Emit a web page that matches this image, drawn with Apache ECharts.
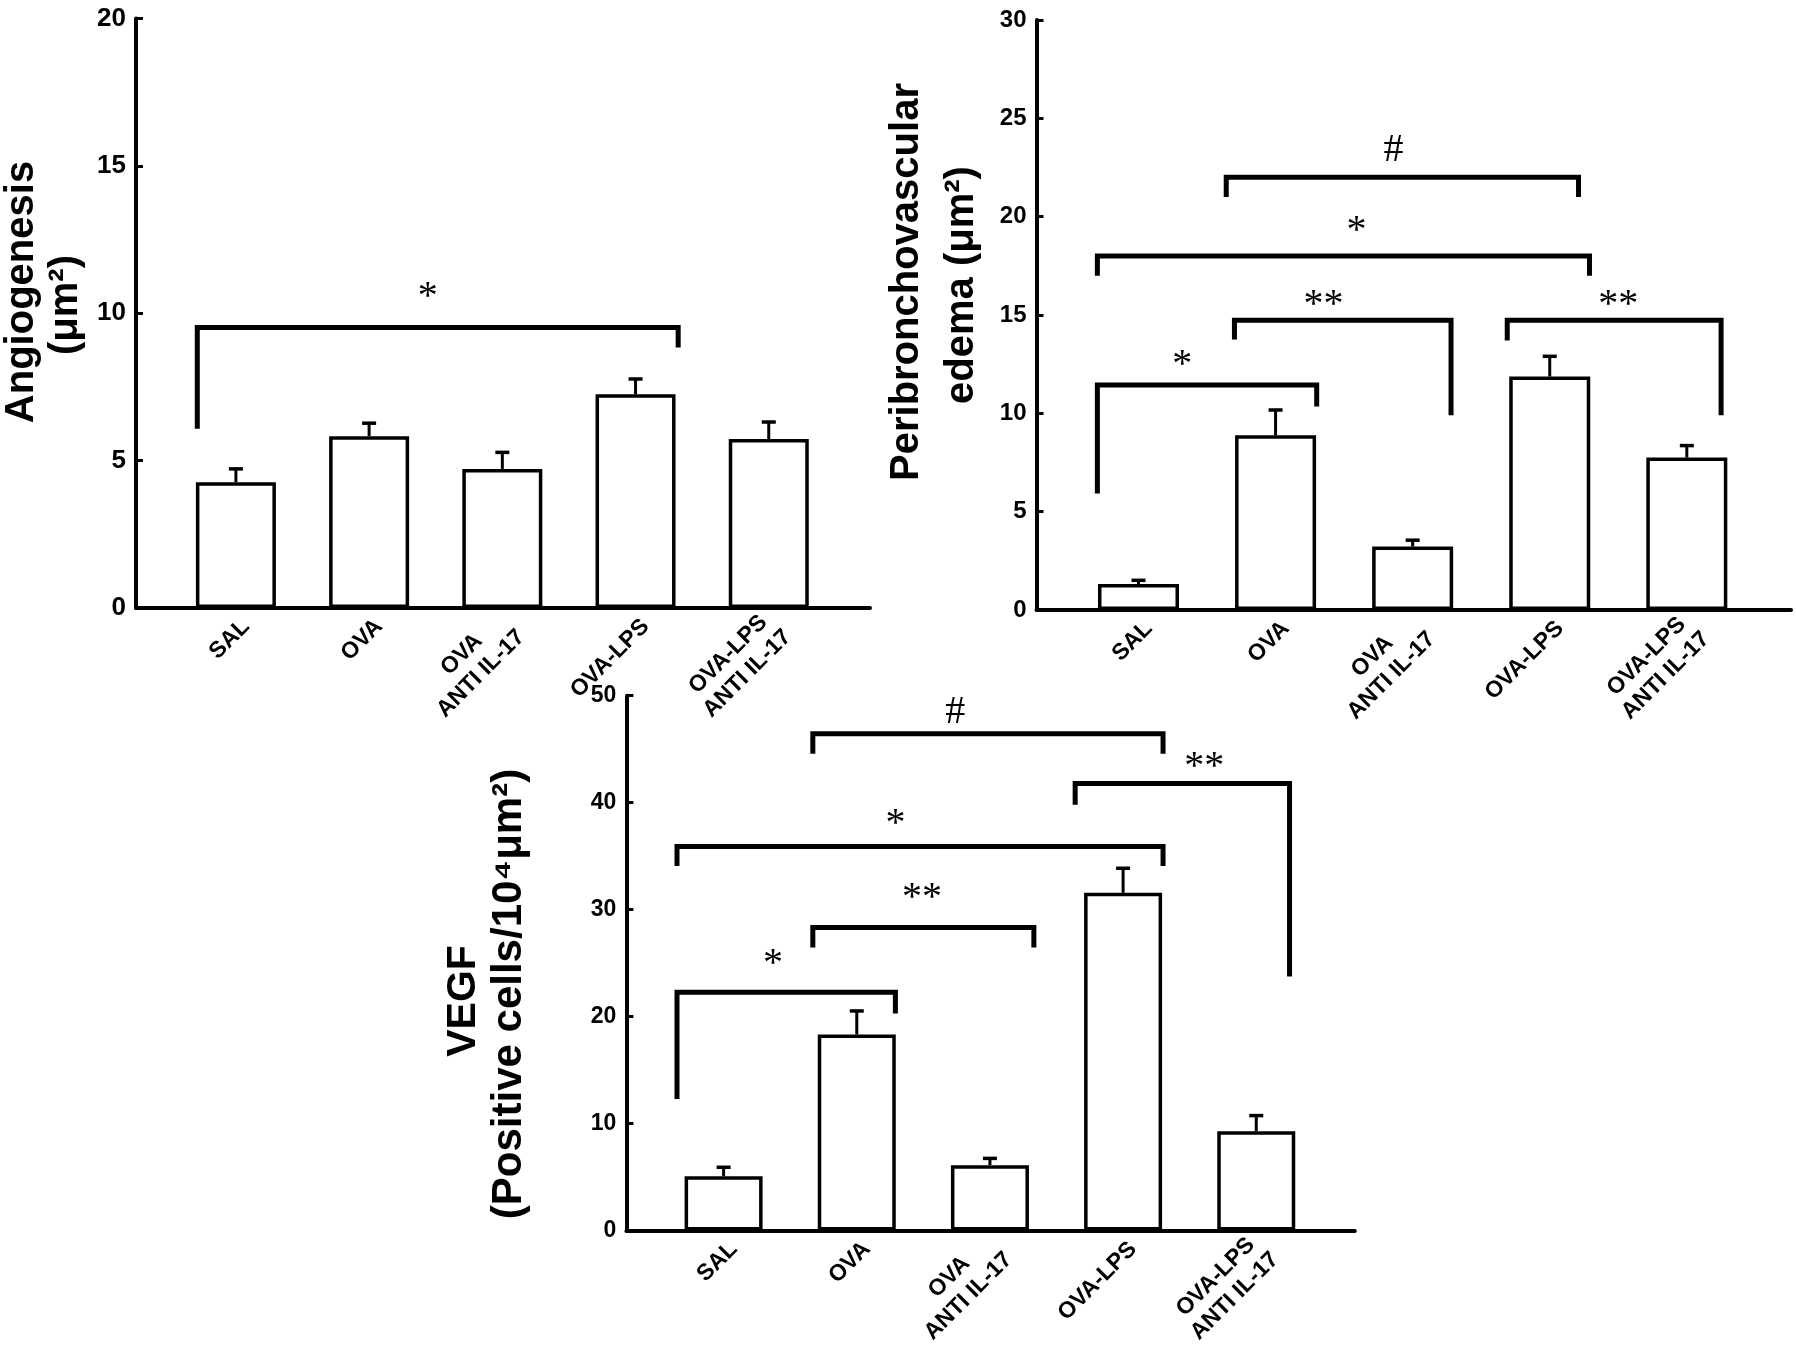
<!DOCTYPE html>
<html>
<head>
<meta charset="UTF-8">
<script src="https://cdn.jsdelivr.net/npm/echarts@6/dist/echarts.min.js"></script>
<style>
html, body { margin: 0; padding: 0; background: #fff; }
#main { width: 1796px; height: 1359px; }
</style>
</head>
<body>
<div id="main"></div>
<script>
// groups, same order in all three panels
var categories = ['SAL', 'OVA', 'OVA\nANTI IL-17', 'OVA-LPS', 'OVA-LPS\nANTI IL-17'];

// Angiogenesis (um2), mean and SEM
var angioMean = [4.27, 5.83, 4.72, 7.25, 5.73];
var angioErr = [0.45, 0.44, 0.56, 0.52, 0.58];

// Peribronchovascular edema (um2)
var edemaMean = [1.32, 8.88, 3.23, 11.87, 7.75];
var edemaErr = [0.19, 1.29, 0.32, 1.03, 0.61];

// VEGF positive cells / 10^4 um2
var vegfMean = [5.08, 18.33, 6.12, 31.58, 9.29];
var vegfErr = [0.84, 2.20, 0.63, 2.29, 1.46];

// significance brackets: [x left, x right, left leg end, top, right leg end, label x, label y]
var angioBrackets = [[-0.29, 3.32, 6.08, 9.52, 8.84, 1.44, 10.53]];
var angioMarks = ['*'];

var edemaBrackets = [
  [0.64, 3.21, 21.0, 22.0, 21.0, 1.86, 23.37],
  [-0.30, 3.29, 17.0, 18.0, 17.0, 1.59, 19.26],
  [0.70, 2.28, 13.76, 14.73, 9.9, 1.35, 15.5],
  [2.69, 4.25, 13.7, 14.73, 9.9, 3.50, 15.5],
  [-0.30, 1.30, 5.93, 11.44, 10.35, 0.32, 12.45]
];
var edemaMarks = ['#', '*', '**', '**', '*'];

var vegfBrackets = [
  [0.67, 3.30, 44.58, 46.45, 44.58, 1.74, 48.47],
  [2.64, 4.25, 39.8, 41.8, 23.75, 3.61, 43.33],
  [-0.35, 3.30, 34.07, 35.9, 34.07, 1.29, 38.0],
  [0.67, 2.33, 26.46, 28.33, 26.46, 1.49, 31.0],
  [-0.35, 1.29, 12.29, 22.29, 20.29, 0.37, 24.87]
];
var vegfMarks = ['#', '**', '*', '**', '*'];

var FONT = 'Liberation Sans, Arial, sans-serif';

function catLabel(v) {
  var c = categories[Math.round(v)];
  if (c.indexOf('\n') < 0) return c;
  return c.split('\n').map(function (s) { return '{c|' + s + '}'; }).join('\n');
}

function makeX(idx, min, max) {
  return {
    type: 'value', gridIndex: idx, min: min, max: max,
    axisLine: { onZero: false, lineStyle: { color: '#000', width: 4 } },
    axisTick: { show: false },
    splitLine: { show: false },
    axisLabel: {
      // labels sit a little right of the bar centres, as in the original
      customValues: categories.map(function (c, i) { return i + 0.075; }),
      formatter: catLabel,
      rotate: 45, margin: 15,
      color: '#000', fontSize: 23, fontWeight: 'bold', fontFamily: FONT,
      rich: { c: { width: 116, lineHeight: 27, align: 'center', color: '#000', fontSize: 23, fontWeight: 'bold', fontFamily: FONT } }
    }
  };
}

function makeY(idx, max, interval, fs) {
  return {
    type: 'value', gridIndex: idx, min: 0, max: max, interval: interval,
    axisLine: { show: true, onZero: false, lineStyle: { color: '#000', width: 4 } },
    axisTick: { show: true, inside: true, length: 7, lineStyle: { color: '#000', width: 3 } },
    splitLine: { show: false },
    axisLabel: { color: '#000', fontSize: fs, fontWeight: 'bold', fontFamily: FONT, margin: 10 }
  };
}

function errRender(params, api) {
  var p0 = api.coord([api.value(0), api.value(1)]);
  var p1 = api.coord([api.value(0), api.value(2)]);
  return {
    type: 'group',
    children: [
      { type: 'line', shape: { x1: p0[0], y1: p0[1], x2: p1[0], y2: p1[1] }, style: { stroke: '#000', lineWidth: 3 } },
      { type: 'line', shape: { x1: p1[0] - 7, y1: p1[1], x2: p1[0] + 7, y2: p1[1] }, style: { stroke: '#000', lineWidth: 3.5 } }
    ]
  };
}

function bracketRender(marks) {
  return function (params, api) {
    var x1 = api.value(0), x2 = api.value(1);
    var pts = [
      api.coord([x1, api.value(2)]),
      api.coord([x1, api.value(3)]),
      api.coord([x2, api.value(3)]),
      api.coord([x2, api.value(4)])
    ];
    var tp = api.coord([api.value(5), api.value(6)]);
    return {
      type: 'group',
      children: [
        { type: 'polyline', shape: { points: pts },
          style: { stroke: '#000', lineWidth: 5, fill: null, lineJoin: 'miter', lineCap: 'butt' } },
        { type: 'text', x: tp[0], y: tp[1],
          style: { text: marks[params.dataIndex], fontFamily: 'Liberation Serif, Times New Roman, serif',
                   fontSize: 40, fill: '#000', align: 'center', verticalAlign: 'middle' } }
      ]
    };
  };
}

function panelSeries(idx, mean, err, brackets, marks, bw) {
  return [
    {
      type: 'bar', xAxisIndex: idx, yAxisIndex: idx, barWidth: bw,
      data: mean.map(function (v, i) { return [i, v]; }),
      itemStyle: { color: '#fff', borderColor: '#000', borderWidth: 3.5 },
      silent: true
    },
    {
      type: 'custom', xAxisIndex: idx, yAxisIndex: idx, z: 3,
      renderItem: errRender,
      data: mean.map(function (v, i) { return [i, v, v + err[i]]; }),
      silent: true
    },
    {
      type: 'custom', xAxisIndex: idx, yAxisIndex: idx, z: 4,
      renderItem: bracketRender(marks),
      data: brackets,
      silent: true
    }
  ];
}

function title(text, x, y, fs) {
  return {
    type: 'text', x: x, y: y, rotation: Math.PI / 2,
    style: { text: text, fontSize: fs, fontWeight: 'bold', fontFamily: FONT, fill: '#000', align: 'center', verticalAlign: 'middle' }
  };
}

var chart = echarts.init(document.getElementById('main'));
chart.setOption({
  animation: false,
  backgroundColor: '#fff',
  grid: [
    { left: 136, top: 18.5, width: 734, height: 589.5 },
    { left: 1036.5, top: 20, width: 754.5, height: 590 },
    { left: 626.4, top: 695.7, width: 728.4, height: 534.9 }
  ],
  xAxis: [makeX(0, -0.75, 4.76), makeX(1, -0.744, 4.76), makeX(2, -0.73, 4.74)],
  yAxis: [makeY(0, 20, 5, 26), makeY(1, 30, 5, 24), makeY(2, 50, 10, 23)],
  series: []
    .concat(panelSeries(0, angioMean, angioErr, angioBrackets, angioMarks, 80))
    .concat(panelSeries(1, edemaMean, edemaErr, edemaBrackets, edemaMarks, 81))
    .concat(panelSeries(2, vegfMean, vegfErr, vegfBrackets, vegfMarks, 78)),
  graphic: [
    title('Angiogenesis', 22, 292, 40),
    title('(\u03bcm\u00b2)', 66, 305, 40),
    title('Peribronchovascular', 907, 282, 40),
    title('edema (\u03bcm\u00b2)', 962, 285, 40),
    title('VEGF', 464, 1001, 41),
    title('(Positive cells/10\u2074\u03bcm\u00b2)', 509, 994, 42)
  ]
});
</script>
</body>
</html>
